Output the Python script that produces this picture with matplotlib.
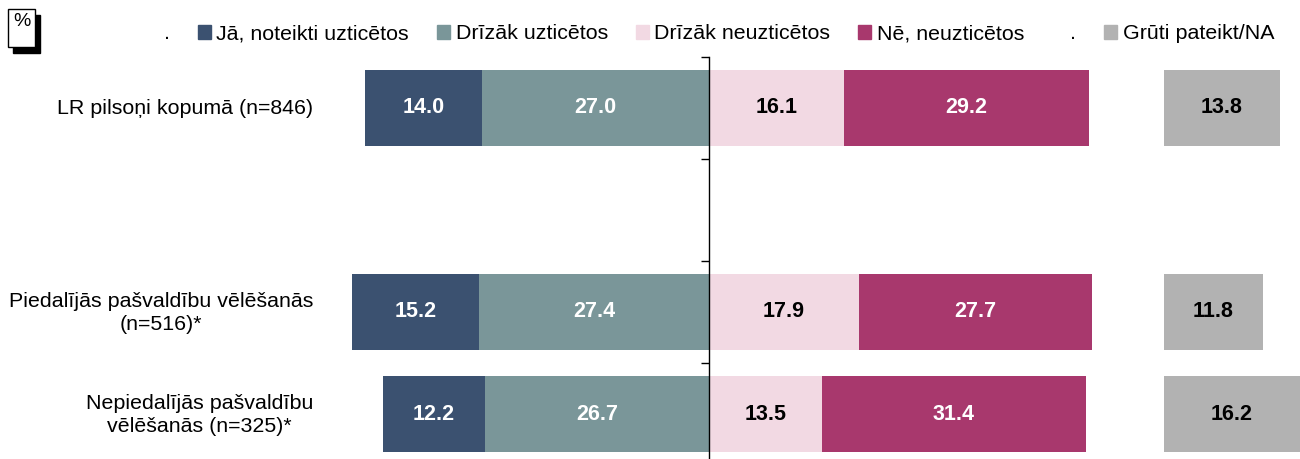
import matplotlib.pyplot as plt
from matplotlib.patches import Rectangle

plt.rcParams['font.family'] = ['Liberation Sans', 'DejaVu Sans']

## rows from top to bottom, the empty one is the gap in the chart
categories = ['LR pilsoņi kopumā (n=846)', '',
              'Piedalījās pašvaldību vēlēšanās\n(n=516)*',
              'Nepiedalījās pašvaldību\nvēlēšanās (n=325)*']
yes_sure = [14.0, 0, 15.2, 12.2]
rather_yes = [27.0, 0, 27.4, 26.7]
rather_no = [16.1, 0, 17.9, 13.5]
no_sure = [29.2, 0, 27.7, 31.4]
dont_know = [13.8, 0, 11.8, 16.2]

labels = ['Jā, noteikti uzticētos', 'Drīzāk uzticētos', 'Drīzāk neuzticētos',
          'Nē, neuzticētos', 'Grūti pateikt/NA']
colors = ['#3b5170', '#7a9699', '#f2d9e3', '#a8386d', '#b2b2b2']
text_colors = ['white', 'white', 'black', 'white', 'black']

DK_START = 54.2  # where the "grūti pateikt" column starts
H = 0.745
FS = 15.4

fig = plt.figure(figsize=(13, 4.59), dpi=100)
ax = fig.add_axes([0, -0.0131, 1, 0.889])

y = list(range(len(categories)))

def put_values(bars, vals, col):
    for b, v in zip(bars, vals):
        if v == 0:
            continue
        ax.text(b.get_x() + b.get_width() / 2, b.get_y() + b.get_height() / 2,
                '{:.1f}'.format(v), ha='center', va='center', color=col,
                fontsize=15.5, fontweight='bold')

left1 = [-(a + b) for a, b in zip(yes_sure, rather_yes)]
left2 = [-b for b in rather_yes]
bars = ax.barh(y, yes_sure, left=left1, height=H, color=colors[0])
put_values(bars, yes_sure, text_colors[0])
bars = ax.barh(y, rather_yes, left=left2, height=H, color=colors[1])
put_values(bars, rather_yes, text_colors[1])
bars = ax.barh(y, rather_no, left=0, height=H, color=colors[2])
put_values(bars, rather_no, text_colors[2])
bars = ax.barh(y, no_sure, left=rather_no, height=H, color=colors[3])
put_values(bars, no_sure, text_colors[3])
bars = ax.barh(y, dont_know, left=DK_START, height=H, color=colors[4])
put_values(bars, dont_know, text_colors[4])

ax.set_xlim(-84.5, 70.44)
ax.set_ylim(3.5, -0.5)

for s in ['top', 'right', 'bottom']:
    ax.spines[s].set_visible(False)
ax.spines['left'].set_position(('data', 0))
ax.spines['left'].set_linewidth(1.0)
ax.set_xticks([])
ax.set_yticks([-0.5, 0.5, 1.5, 2.5])
ax.set_yticklabels([])
ax.tick_params(axis='y', length=6, width=1, direction='out')

for yi, c in zip(y, categories):
    ax.text(0.2408, yi + 0.01, c, transform=ax.get_yaxis_transform(), ha='right',
            va='center', multialignment='center', fontsize=FS, linespacing=1.25)

# legend, with the two blank "." entries
handles = [Rectangle((0, 0), 1, 1, color='white')]
names = ['.']
for i in range(4):
    handles.append(Rectangle((0, 0), 1, 1, color=colors[i]))
    names.append(labels[i])
handles.append(Rectangle((0, 0), 1, 1, color='white'))
names.append('.')
handles.append(Rectangle((0, 0), 1, 1, color=colors[4]))
names.append(labels[4])
fig.legend(handles, names, ncol=7, loc='center left', bbox_to_anchor=(0.112, 0.926),
           frameon=False, fontsize=FS, borderpad=0, borderaxespad=0,
           handlelength=0.61, handleheight=0.61, handletextpad=0.26,
           columnspacing=1.3)

# "%" box with shadow
W, Hf = 1300.0, 459.0
fig.patches.append(Rectangle((13 / W, 1 - 53 / Hf), 27 / W, 38 / Hf, transform=fig.transFigure,
                             facecolor='black', edgecolor='black', zorder=1))
fig.patches.append(Rectangle((8 / W, 1 - 47 / Hf), 27 / W, 38 / Hf, transform=fig.transFigure,
                             facecolor='white', edgecolor='black', linewidth=1, zorder=2))
fig.text(21.5 / W, 1 - 21 / Hf, '%', ha='center', va='center', fontsize=14, zorder=3)

fig.savefig('out.png')
